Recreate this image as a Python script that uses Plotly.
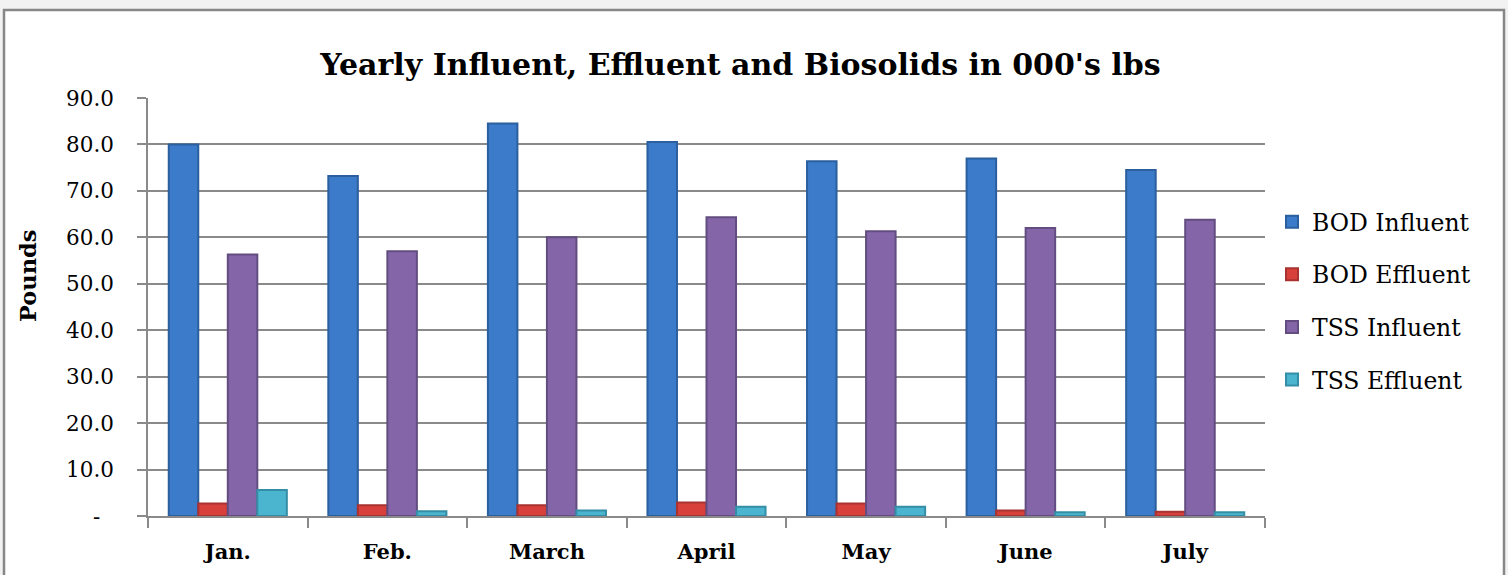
import plotly.graph_objects as go

months = ["Jan.", "Feb.", "March", "April", "May", "June", "July"]
bod_influent = [80.0, 73.2, 84.5, 80.5, 76.4, 77.0, 74.5]
bod_effluent = [2.7, 2.3, 2.3, 2.9, 2.7, 1.2, 0.9]
tss_influent = [56.3, 57.0, 60.0, 64.3, 61.3, 62.0, 63.8]
tss_effluent = [5.6, 1.0, 1.2, 2.0, 2.0, 0.8, 0.8]

y_tickvals = [0, 10, 20, 30, 40, 50, 60, 70, 80, 90]
y_ticktext = ["-\u00a0\u00a0", "10.0", "20.0", "30.0", "40.0", "50.0", "60.0", "70.0", "80.0", "90.0"]

series = [
    ("BOD Influent", bod_influent, "#3b7bc9", "#2b5f9e"),
    ("BOD Effluent", bod_effluent, "#d8403c", "#a83330"),
    ("TSS Influent", tss_influent, "#8466a8", "#634d80"),
    ("TSS Effluent", tss_effluent, "#4bb4cf", "#348ea6"),
]

FONT = "DejaVu Serif"

fig = go.Figure()
for i, (name, vals, col, edge) in enumerate(series):
    fig.add_trace(go.Bar(
        name=name, x=months, y=vals,
        marker=dict(color=col, line=dict(color=edge, width=2)),
        legendgroup=f"g{i}",
    ))

W, H = 1508, 575
ml, mr, mt, mb = 148, 243, 98, 59
pw, ph = W - ml - mr, H - mt - mb

def px_x(p):
    return (p - ml) / pw

def px_y(p):
    return (H - mb - p) / ph

fig.update_layout(
    width=W, height=H,
    margin=dict(l=ml, r=mr, t=mt, b=mb, autoexpand=False),
    paper_bgcolor="#f2f2f2",
    plot_bgcolor="white",
    barmode="group",
    bargap=0.26,
    bargroupgap=0,
    font=dict(family=FONT, color="black", size=21),
    title=dict(
        text="<b>Yearly Influent, Effluent and Biosolids in 000's lbs</b>",
        x=0.491, xanchor="center", y=1 - 64 / H, yanchor="middle",
        font=dict(family=FONT, size=30, color="black"),
    ),
    legend=dict(
        x=px_x(1272), xanchor="left",
        y=px_y(200), yanchor="top",
        font=dict(family=FONT, size=23.5, color="black"),
        tracegroupgap=19,
        bgcolor="rgba(0,0,0,0)",
    ),
    shapes=[dict(
        type="rect", xref="paper", yref="paper",
        x0=px_x(4), x1=px_x(1504), y0=px_y(620), y1=px_y(10),
        line=dict(color="#878787", width=2.5), fillcolor="white",
        layer="below",
    )],
    annotations=[dict(
        text="<b>Pounds</b>", xref="paper", yref="paper",
        x=px_x(28), y=px_y(276), xanchor="center", yanchor="middle",
        textangle=-90, showarrow=False,
        font=dict(family=FONT, size=22.5, color="black"),
    )],
)

fig.update_xaxes(
    type="category",
    showline=True, linecolor="#8a8a8a", linewidth=1.5,
    ticks="outside", tickson="boundaries", ticklen=10, tickcolor="#8a8a8a", tickwidth=1.5,
    showgrid=False,
    tickfont=dict(family=FONT, size=21, color="black"),
    tickprefix="<b>", ticksuffix="</b>",
    ticklabelstandoff=16,
)
fig.update_yaxes(
    range=[0, 90],
    tickvals=y_tickvals, ticktext=y_ticktext,
    showline=True, linecolor="#8a8a8a", linewidth=1.5,
    ticks="outside", ticklen=9, tickcolor="#8a8a8a", tickwidth=1.5,
    showgrid=True, gridcolor="#8a8a8a", gridwidth=1.5,
    zeroline=False,
    tickfont=dict(family=FONT, size=21.5, color="black"),
    ticklabelstandoff=19,
)

fig.write_html(
    "out.html",
    config={"displayModeBar": False},
    post_script="document.body.style.margin='0';document.body.style.background='#f2f2f2';document.body.style.overflow='hidden';",
)
